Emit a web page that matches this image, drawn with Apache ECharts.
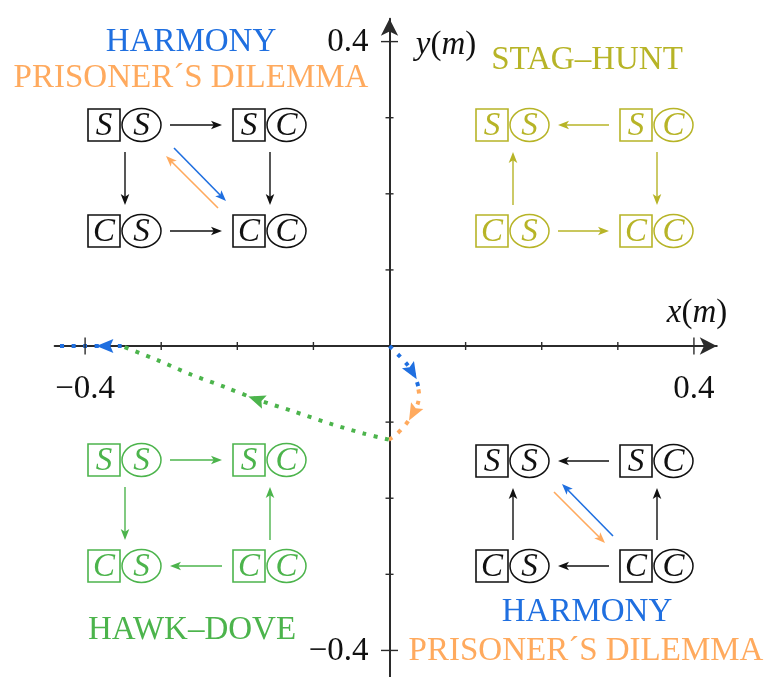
<!DOCTYPE html>
<html><head><meta charset="utf-8">
<script src="https://cdn.jsdelivr.net/npm/echarts@6/dist/echarts.min.js"></script>
<style>html,body{margin:0;padding:0;background:#fff}#c{width:766px;height:677px}</style>
</head><body><div id="c"></div>
<script>
// ---------- data ----------
const xTicks = [-0.4, -0.3, -0.2, -0.1, 0.1, 0.2, 0.3, 0.4];
const yTicks = [-0.4, -0.3, -0.2, -0.1, 0.1, 0.2, 0.3, 0.4];
const tickLabelValues = [-0.4, 0.4];
const tickLabelTexts = ['\u22120.4', '0.4'];

// trajectory pieces (x, y in metres), in time order
const harmonyStart = [[0, 0], [0.013, -0.013], [0.023, -0.024], [0.030, -0.034], [0.035, -0.044], [0.038, -0.054]];
const prisonersPath = [[0.038, -0.057], [0.039, -0.065], [0.037, -0.076], [0.031, -0.088], [0.025, -0.098], [0.018, -0.107], [0.007, -0.118], [-0.001, -0.123]];
const hawkDovePath = [[-0.001, -0.123], [-0.034, -0.115], [-0.078, -0.102], [-0.126, -0.086], [-0.175, -0.070], [-0.216, -0.054], [-0.262, -0.037], [-0.306, -0.018], [-0.352, 0]];
const harmonyEnd = [[-0.352, 0], [-0.374, 0], [-0.40, 0], [-0.44, 0]];
// where a direction arrow sits on each piece (index into the piece)
const arrowIndex = [3, 3, 4, 1];

const gameTitles = ['HARMONY', 'PRISONER\u00B4S DILEMMA', 'STAG\u2013HUNT', 'HAWK\u2013DOVE'];
const axisNames = ['x', 'y'];

// ---------- style ----------
const FONT = '"Liberation Serif", "Times New Roman", serif';
const BLUE = '#1f6fe0', ORANGE = '#ffaa5e', OLIVE = '#b7b427', GREEN = '#4cb44c', INK = '#111111';
const AXC = '#2b2b2b';

const pieces = [harmonyStart, prisonersPath, hawkDovePath, harmonyEnd];
const pieceColors = [BLUE, ORANGE, GREEN, BLUE];

const arrowData = pieces.map((p, k) => {
  const i = arrowIndex[k];
  const a = p[Math.max(i - 1, 0)], b = p[Math.min(i + 1, p.length - 1)];
  return [p[i][0], p[i][1], b[0] - a[0], b[1] - a[1], k];
});

// ---------- diagrams (pixel layout) ----------
function headPoly(x1, y1, x2, y2, L, W, notch) {
  const d = Math.hypot(x2 - x1, y2 - y1), ux = (x2 - x1) / d, uy = (y2 - y1) / d;
  const nx = -uy, ny = ux;
  const n = notch || 0.75;
  return [[x2, y2], [x2 - L * ux + W * nx, y2 - L * uy + W * ny], [x2 - n * L * ux, y2 - n * L * uy], [x2 - L * ux - W * nx, y2 - L * uy - W * ny]];
}
function arrowEls(x1, y1, x2, y2, color, lw) {
  const d = Math.hypot(x2 - x1, y2 - y1), ux = (x2 - x1) / d, uy = (y2 - y1) / d;
  return [
    {type: 'line', shape: {x1: x1, y1: y1, x2: x2 - 7 * ux, y2: y2 - 7 * uy}, style: {stroke: color, lineWidth: lw}},
    {type: 'polygon', shape: {points: headPoly(x1, y1, x2, y2, 11, 4.3)}, style: {fill: color}}
  ];
}
function diagram(x0, x1, y0, y1, color, edges, diags) {
  const els = [];
  const pos = {SS: [x0, y0], SC: [x1, y0], CS: [x0, y1], CC: [x1, y1]};
  Object.keys(pos).forEach(k => {
    const cx = pos[k][0], cy = pos[k][1];
    els.push({type: 'rect', shape: {x: cx - 37, y: cy - 16, width: 32, height: 32}, style: {fill: 'none', stroke: color, lineWidth: 1.6}});
    els.push({type: 'ellipse', shape: {cx: cx + 16.5, cy: cy, rx: 19.5, ry: 16.5}, style: {fill: 'none', stroke: color, lineWidth: 1.5}});
    els.push({type: 'text', x: cx - 21, y: cy + 1, style: {text: k[0], fontSize: 33, fontStyle: 'italic', fontFamily: FONT, fill: color, align: 'center', verticalAlign: 'middle'}});
    els.push({type: 'text', x: cx + 16.5, y: cy + 1, style: {text: k[1], fontSize: 33, fontStyle: 'italic', fontFamily: FONT, fill: color, align: 'center', verticalAlign: 'middle'}});
  });
  edges.forEach(e => {
    const a = pos[e[0]], b = pos[e[1]];
    if (a[1] === b[1]) {
      const lo = Math.min(a[0], b[0]) + 45, hi = Math.max(a[0], b[0]) - 48;
      if (b[0] > a[0]) els.push(...arrowEls(lo, a[1], hi, a[1], color, 1.4));
      else els.push(...arrowEls(hi, a[1], lo, a[1], color, 1.4));
    } else {
      const lo = Math.min(a[1], b[1]) + 27, hi = Math.max(a[1], b[1]) - 26;
      if (b[1] > a[1]) els.push(...arrowEls(a[0], lo, a[0], hi, color, 1.4));
      else els.push(...arrowEls(a[0], hi, a[0], lo, color, 1.4));
    }
  });
  if (diags) {
    const U = [x0 + 49, y0 + 23, x1 - 44, y1 - 30];
    const Lw = [x0 + 41, y0 + 31, x1 - 52, y1 - 23];
    if (diags === 'down') {
      els.push(...arrowEls(U[0], U[1], U[2], U[3], BLUE, 1.6));
      els.push(...arrowEls(Lw[2], Lw[3], Lw[0], Lw[1], ORANGE, 1.6));
    } else {
      els.push(...arrowEls(U[2], U[3], U[0], U[1], BLUE, 1.6));
      els.push(...arrowEls(Lw[0], Lw[1], Lw[2], Lw[3], ORANGE, 1.6));
    }
  }
  return els;
}
function title(text, x, y, color) {
  return {type: 'text', x: x, y: y, style: {text: text, fontSize: 33, fontFamily: FONT, fill: color, align: 'center', verticalAlign: 'middle'}};
}
function axisName(n, x, y) {
  return {type: 'text', x: x, y: y, style: {text: '{i|' + n + '}({i|m})', fontSize: 33, fontFamily: FONT, fill: INK, align: 'center', verticalAlign: 'middle',
    rich: {i: {fontSize: 33, fontFamily: FONT, fontStyle: 'italic', fill: INK}}}};
}

const graphics = [].concat(
  diagram(125, 270, 125, 231, INK, [['SS', 'SC'], ['SS', 'CS'], ['SC', 'CC'], ['CS', 'CC']], 'down'),
  diagram(513, 657, 125, 231, OLIVE, [['SC', 'SS'], ['SC', 'CC'], ['CS', 'SS'], ['CS', 'CC']], null),
  diagram(513, 657, 461, 566, INK, [['SC', 'SS'], ['CS', 'SS'], ['CC', 'SC'], ['CC', 'CS']], 'up'),
  diagram(125, 270, 460, 566, GREEN, [['SS', 'SC'], ['SS', 'CS'], ['CC', 'SC'], ['CC', 'CS']], null),
  [
    title(gameTitles[0], 191, 42, BLUE),
    title(gameTitles[1], 191, 78, ORANGE),
    title(gameTitles[2], 587, 60, OLIVE),
    title(gameTitles[3], 192, 630, GREEN),
    title(gameTitles[0], 587, 612, BLUE),
    title(gameTitles[1], 586, 651, ORANGE),
    axisName(axisNames[0], 697, 313),
    axisName(axisNames[1], 446, 45)
  ]
);

// ---------- chart ----------
const chart = echarts.init(document.getElementById('c'), null, {renderer: 'canvas'});

function tickSeries(vals, isX) {
  return {
    type: 'custom', silent: true, z: 5, clip: false,
    data: vals.map(v => isX ? [v, 0] : [0, v]),
    renderItem: (params, api) => {
      const p = api.coord([api.value(0), api.value(1)]);
      const v = isX ? api.value(0) : api.value(1);
      const big = Math.abs(Math.abs(v) - 0.4) < 1e-9;
      const h = big ? 8.5 : 4;
      const shape = isX ? {x1: p[0], y1: p[1] - h, x2: p[0], y2: p[1] + h} : {x1: p[0] - h, y1: p[1], x2: p[0] + h, y2: p[1]};
      const children = [{type: 'line', shape: shape, style: {stroke: AXC, lineWidth: 1.4}}];
      const li = tickLabelValues.findIndex(t => Math.abs(t - v) < 1e-9);
      if (li >= 0) {
        children.push({
          type: 'text',
          x: isX ? p[0] : p[0] - 21,
          y: isX ? p[1] + 43 : p[1] + 1,
          style: {text: tickLabelTexts[li], fontSize: 33, fontFamily: FONT, fill: INK,
            align: isX ? 'center' : 'right', verticalAlign: 'middle'}
        });
      }
      return {type: 'group', children: children};
    }
  };
}

const lineSeries = pieces.map((p, k) => ({
  type: 'line', data: p, showSymbol: false, smooth: 0.3, z: 3, silent: true, clip: false,
  lineStyle: {color: pieceColors[k], width: 4, type: [4, 7.5], cap: 'butt'}
}));

const option = {
  animation: false,
  backgroundColor: '#ffffff',
  grid: {left: 54.66, top: 18.77, width: 662.1, height: 658.3, containLabel: false, outerBoundsMode: 'none'},
  xAxis: {
    type: 'value', min: -0.44, max: 0.43,
    axisLine: {onZero: true, symbol: ['none', 'arrow'], symbolSize: [13, 17], lineStyle: {color: AXC, width: 2}},
    axisTick: {show: false}, splitLine: {show: false}, axisLabel: {show: false}
  },
  yAxis: {
    type: 'value', min: -0.435, max: 0.43,
    axisLine: {onZero: true, symbol: ['none', 'arrow'], symbolSize: [13, 17], lineStyle: {color: AXC, width: 2}},
    axisTick: {show: false}, splitLine: {show: false}, axisLabel: {show: false}
  },
  series: [
    tickSeries(xTicks, true),
    tickSeries(yTicks, false),
    ...lineSeries,
    {
      type: 'custom', silent: true, z: 4, clip: false,
      data: arrowData,
      renderItem: (params, api) => {
        const x = api.value(0), y = api.value(1);
        const p = api.coord([x, y]);
        const q = api.coord([x + api.value(2), y + api.value(3)]);
        const d = Math.hypot(q[0] - p[0], q[1] - p[1]);
        const ux = (q[0] - p[0]) / d, uy = (q[1] - p[1]) / d;
        const L = 17, W = 7;
        const tip = [p[0] + L / 2 * ux, p[1] + L / 2 * uy];
        const pts = headPoly(p[0] - L / 2 * ux, p[1] - L / 2 * uy, tip[0], tip[1], L, W, 0.82);
        return {type: 'polygon', shape: {points: pts}, style: {fill: pieceColors[api.value(4)]}};
      }
    }
  ],
  graphic: graphics
};
chart.setOption(option);
</script>
</body></html>
